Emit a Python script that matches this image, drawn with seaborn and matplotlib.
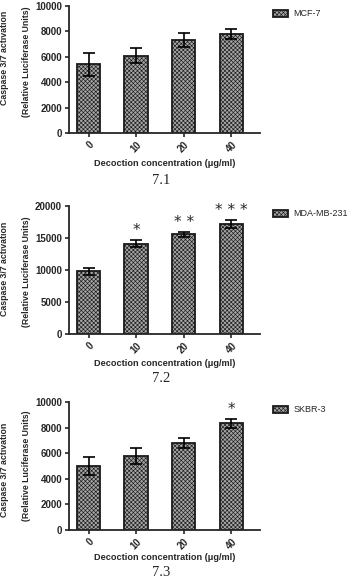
import matplotlib
matplotlib.use("Agg")
import matplotlib.pyplot as plt
import seaborn as sns
import pandas as pd

sns.set_style("ticks")
plt.rcParams['font.family'] = ['Liberation Sans', 'DejaVu Sans']
plt.rcParams['hatch.linewidth'] = 0.45

concentrations = ["0", "10", "20", "40"]

mcf7_mean = [5400, 6100, 7350, 7800]
mcf7_err = [900, 600, 550, 400]

mda_mean = [9800, 14100, 15600, 17200]
mda_err = [550, 550, 400, 600]

skbr_mean = [5000, 5780, 6820, 8330]
skbr_err = [700, 650, 400, 330]

mda_stars = ["", "*", "* *", "* * *"]
skbr_stars = ["", "", "", "*"]

panels = [
    ("MCF-7", mcf7_mean, mcf7_err, ["", "", "", ""], 10000, [0, 2000, 4000, 6000, 8000, 10000], "7.1"),
    ("MDA-MB-231", mda_mean, mda_err, mda_stars, 20000, [0, 5000, 10000, 15000, 20000], "7.2"),
    ("SKBR-3", skbr_mean, skbr_err, skbr_stars, 10000, [0, 2000, 4000, 6000, 8000, 10000], "7.3"),
]

W, H = 358, 578
fig = plt.figure(figsize=(W / 100, H / 100), dpi=100)

axes_px = [(6, 133), (206, 334), (402, 530)]
xlabel_y = [163, 364, 558]
num_y = [180, 378, 573]
ylab1_center = [58, 269, 470]
ylab2_center = [62, 272, 466]
legend_y = [14, 214, 410]

left_px, right_px = 69, 260
HATCH = "xxxxxxxx"

for i, (name, means, errs, stars, ymax, yticks, num) in enumerate(panels):
    top, bot = axes_px[i]
    ax = fig.add_axes([left_px / W, 1 - bot / H, (right_px - left_px) / W, (bot - top) / H])
    df = pd.DataFrame({"conc": concentrations, "value": means, "cell": name})
    sns.barplot(data=df, x="conc", y="value", hue="cell", ax=ax, width=0.49,
                palette=["#a6a6a6"], edgecolor="#1a1a1a", linewidth=1.3, errorbar=None)
    for p in ax.patches:
        p.set_hatch(HATCH)
    ax.errorbar(range(len(concentrations)), means, yerr=errs, fmt="none",
                ecolor="black", elinewidth=1.2, capsize=4.5, capthick=1.2)
    for j, s in enumerate(stars):
        if s:
            ax.text(j, means[j] + errs[j] + ymax * 0.015, s, ha="center", va="bottom",
                    fontsize=11, family="DejaVu Sans")
    ax.set_ylim(0, ymax)
    ax.set_xlim(-0.41, 3.6)
    ax.set_yticks(yticks)
    ax.set_yticklabels([str(t) for t in yticks], fontsize=7, fontweight="bold")
    ax.set_xticks(range(len(concentrations)))
    ax.set_xticklabels(concentrations, fontsize=7, fontweight="bold", rotation=45,
                       ha="right", rotation_mode="anchor")
    ax.tick_params(axis="both", width=1.2, length=3, pad=2)
    for sp in ["top", "right"]:
        ax.spines[sp].set_visible(False)
    for sp in ["left", "bottom"]:
        ax.spines[sp].set_linewidth(1.3)
    ax.set_xlabel("")
    ax.set_ylabel("")
    leg = ax.legend(loc="center left",
                    bbox_to_anchor=(1.07, 1 - (legend_y[i] - top) / (bot - top)),
                    frameon=False, fontsize=6.5, handlelength=1.6, handleheight=0.9,
                    handletextpad=0.6, borderpad=0, borderaxespad=0)
    for h in leg.legend_handles:
        h.set_hatch(HATCH)
    fig.text(165 / W, 1 - xlabel_y[i] / H, "Decoction concentration (\u03bcg/ml)",
             ha="center", va="center", fontsize=6.6, fontweight="bold")
    fig.text(161 / W, 1 - num_y[i] / H, num, ha="center", va="center", fontsize=10.5,
             family="Liberation Serif")
    fig.text(5 / W, 1 - ylab1_center[i] / H, "Caspase 3/7 activation", rotation=90,
             ha="center", va="center", fontsize=6.3, fontweight="bold")
    fig.text(27 / W, 1 - ylab2_center[i] / H, "(Relative Luciferase Units)", rotation=90,
             ha="center", va="center", fontsize=6.3, fontweight="bold")

fig.savefig("out.png", dpi=100)
